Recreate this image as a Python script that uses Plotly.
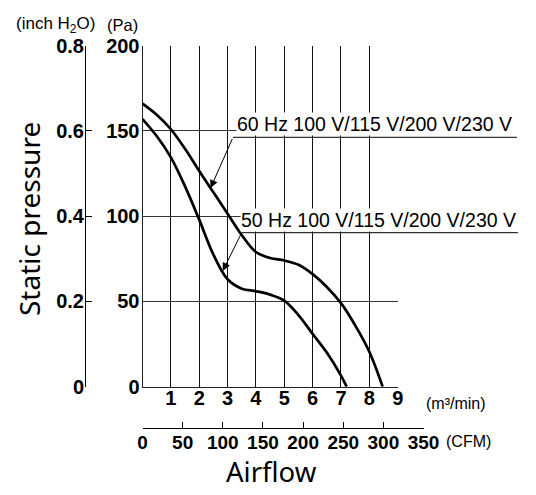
import numpy as np
import plotly.graph_objects as go

# ---------------- data ----------------
m3_60 = [0, 0.5, 1, 1.5, 2, 2.5, 3, 3.5, 4, 4.5, 5, 5.5, 6, 6.5, 7, 7.5, 8, 8.47]
pa_60 = [166, 159.5, 151, 139.5, 126.5, 114, 101.5, 89, 79, 75.5, 74, 71.5, 66, 58.5, 49, 36, 20.5, 0]

m3_50 = [0, 0.5, 1, 1.5, 2, 2.5, 3, 3.5, 4, 4.5, 5, 5.5, 6, 6.5, 7, 7.2]
pa_50 = [157, 147, 134.5, 117.5, 98, 77.5, 63, 57.5, 56, 54, 50.5, 42, 31, 20, 6.5, 0]

m3_ticks = [1, 2, 3, 4, 5, 6, 7, 8, 9]
pa_ticks = [0, 50, 100, 150, 200]
inch_ticks = [0, 0.2, 0.4, 0.6, 0.8]
inch_labels = ["0", "0.2", "0.4", "0.6", "0.8"]
cfm_ticks = [0, 50, 100, 150, 200, 250, 300, 350]

label_60 = "60 Hz 100 V/115 V/200 V/230 V"
label_50 = "50 Hz 100 V/115 V/200 V/230 V"
CFM_PER_M3 = 35.3147

# ---------------- layout helpers (pixels -> paper) ----------------
W, H = 536, 495
ML, MR, MT, MB = 60, 20, 40, 40
PW, PH = W - ML - MR, H - MT - MB


def fx(px):
    return (px - ML) / PW


def fy(py):
    return (H - MB - py) / PH


X0, X1 = 142.5, 397.7      # plot area left/right (0 .. 9 m3/min)
Y0, Y1 = 386.7, 45.7       # plot area bottom/top (0 .. 200 Pa)
px_per_m3 = (X1 - X0) / 9
px_per_pa = (Y0 - Y1) / 200
XC = X0 + (350 / CFM_PER_M3) * px_per_m3


def px2m(px):
    return (px - X0) / px_per_m3


def py2pa(py):
    return (Y0 - py) / px_per_pa


NARROW = "Liberation Sans, Arial, sans-serif"
SANS = "Liberation Sans, Arial, sans-serif"
BIG = "Noto Sans, DejaVu Sans, sans-serif"
TICKW = "bold"

fig = go.Figure()
for xs, ys in [(m3_60, pa_60), (m3_50, pa_50)]:
    fig.add_trace(go.Scatter(x=xs, y=ys, mode="lines",
                             line=dict(color="black", width=2.7, shape="spline", smoothing=1.0),
                             hoverinfo="skip", showlegend=False))
# invisible helpers so that the secondary axes are drawn
fig.add_trace(go.Scatter(x=[0], y=[0], xaxis="x", yaxis="y2", mode="markers",
                         marker=dict(opacity=0), hoverinfo="skip", showlegend=False))
fig.add_trace(go.Scatter(x=[0], y=[0], xaxis="x2", yaxis="y3", mode="markers",
                         marker=dict(opacity=0), hoverinfo="skip", showlegend=False))

fig.update_layout(
    width=W, height=H,
    margin=dict(l=ML, r=MR, t=MT, b=MB, autoexpand=False),
    paper_bgcolor="white", plot_bgcolor="rgba(0,0,0,0)",
    showlegend=False,
    xaxis=dict(domain=[fx(X0), fx(X1)], range=[0, 9], tickvals=m3_ticks,
               showgrid=True, gridcolor="#111", gridwidth=1,
               showline=True, linecolor="#222", linewidth=1, ticks="",
               zeroline=False, anchor="y", ticklabelstandoff=-7, automargin=False,
               tickfont=dict(family=NARROW, size=20, color="black", weight=TICKW)),
    yaxis=dict(domain=[fy(Y0), fy(Y1)], range=[0, 200], tickvals=pa_ticks,
               showgrid=True, gridcolor="#333", gridwidth=1,
               showline=True, linecolor="#222", linewidth=1, ticks="",
               zeroline=False, anchor="x", ticklabelstandoff=-2, automargin=False,
               tickfont=dict(family=NARROW, size=20, color="black", weight=TICKW)),
    yaxis2=dict(overlaying="y", range=[0, 0.8], anchor="free", position=fx(85), side="left",
                tickvals=inch_ticks, ticktext=inch_labels, ticks="inside", ticklen=6,
                tickcolor="black", showline=True, linecolor="black", linewidth=1,
                showgrid=False, zeroline=False, ticklabelstandoff=-3, automargin=False,
                tickfont=dict(family=NARROW, size=20, color="black", weight=TICKW)),
    xaxis2=dict(domain=[fx(X0), fx(XC)], range=[0, 350], anchor="free", position=fy(428.3),
                side="bottom", tickvals=cfm_ticks, ticks="inside", ticklen=6,
                tickcolor="black", showline=True, linecolor="black", linewidth=1,
                showgrid=False, zeroline=False, ticklabelstandoff=-3, automargin=False,
                tickfont=dict(family=NARROW, size=19, color="black", weight=TICKW)),
    yaxis3=dict(visible=False, domain=[0, 0.02], anchor="x2", range=[0, 1]),
)

ann = []
# unit labels
ann.append(dict(text="(inch H<sub>2</sub>O)", xref="paper", yref="paper", x=fx(14), y=fy(25),
                xanchor="left", yanchor="middle", showarrow=False,
                font=dict(family=SANS, size=17, color="black")))
ann.append(dict(text="(Pa)", xref="paper", yref="paper", x=fx(105), y=fy(25),
                xanchor="left", yanchor="middle", showarrow=False,
                font=dict(family=SANS, size=16.5, color="black")))
ann.append(dict(text="(m³/min)", xref="paper", yref="paper", x=fx(424), y=fy(403),
                xanchor="left", yanchor="middle", showarrow=False,
                font=dict(family=SANS, size=16, color="black")))
ann.append(dict(text="(CFM)", xref="paper", yref="paper", x=fx(444), y=fy(441.5),
                xanchor="left", yanchor="middle", showarrow=False,
                font=dict(family=SANS, size=16, color="black")))
# axis titles
ann.append(dict(text="Static pressure", xref="paper", yref="paper", x=fx(29), y=fy(219),
                xanchor="center", yanchor="middle", textangle=-90, showarrow=False,
                font=dict(family=BIG, size=28, color="black")))
ann.append(dict(text="Airflow", xref="paper", yref="paper", x=fx(271.5), y=fy(471),
                xanchor="center", yanchor="middle", showarrow=False,
                font=dict(family=BIG, size=27.5, color="black")))

# curve labels with leader lines and arrows
shapes = []
for label, xs, ys, tail, head_m, text_left, text_bottom, line_end in [
    (label_60, m3_60, pa_60, (233, 137.3), 2.40, 236, 136.3, 517),
    (label_50, m3_50, pa_50, (241.7, 232.7), 2.83, 240, 231.8, 518),
]:
    head_pa = float(np.interp(head_m, xs, ys))
    ann.append(dict(text=label, xref="paper", yref="paper", x=fx(text_left), y=fy(text_bottom),
                    xanchor="left", yanchor="bottom", showarrow=False, bgcolor="white",
                    borderpad=0, font=dict(family=NARROW, size=19.5, color="black")))
    ann.append(dict(text="", x=head_m, y=head_pa, xref="x", yref="y",
                    ax=px2m(tail[0]), ay=py2pa(tail[1]), axref="x", ayref="y",
                    showarrow=True, arrowhead=2, arrowsize=1.6, arrowwidth=1,
                    arrowcolor="black", standoff=0))
    shapes.append(dict(type="line", xref="paper", yref="paper",
                       x0=fx(tail[0]), x1=fx(line_end), y0=fy(tail[1]), y1=fy(tail[1]),
                       line=dict(color="black", width=1), layer="above"))

fig.update_layout(annotations=ann, shapes=shapes)
fig.write_html("out.html")
